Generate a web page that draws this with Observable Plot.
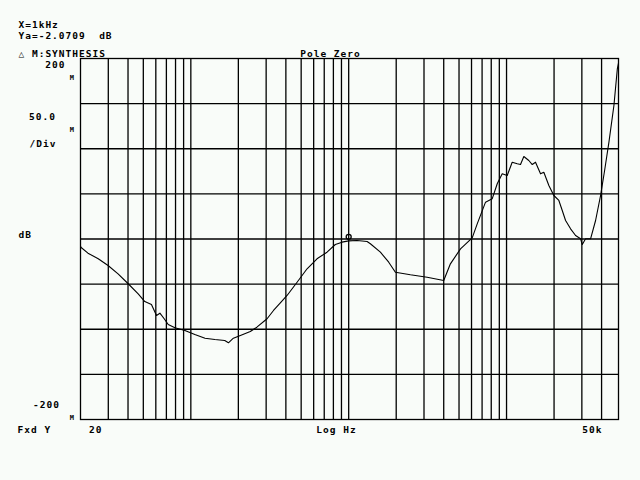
<!DOCTYPE html>
<html>
<head>
<meta charset="utf-8">
<script src="https://cdn.jsdelivr.net/npm/d3@7"></script>
<script src="https://cdn.jsdelivr.net/npm/@observablehq/plot@0.6"></script>
<style>
  html, body { margin: 0; padding: 0; background: #f9fcf9; }
</style>
</head>
<body>
<div id="chart"></div>
<script>
// Frequency (Hz) and magnitude (milli-dB)
const freqHz = [20, 20.1, 22.3, 25.9, 29.9, 34.6, 40.1, 46.4, 51.1, 56.3, 60.6, 63.7, 67.8, 71.9, 79.3, 91.7,
  106, 123, 142, 164, 173, 186, 206, 238, 262, 304, 334, 369, 407, 471, 545, 630, 729, 823, 908, 1000,
  1130, 1308, 1372, 1588, 1793, 1977, 2460, 3140, 4000, 4410, 5110, 6060, 6520, 7360, 8110, 8730, 9390,
  10100, 10860, 11690, 12260, 12870, 13840, 14550, 15260, 16420, 17230, 18540, 19940, 21450, 22540,
  23660, 25450, 27380, 29450, 30190, 31670, 34070, 36650, 39420, 41810, 44530, 47890, 50340, 51200];
const magMdB = [-7.5, -9.1, -15.7, -21.9, -29.4, -38.6, -49.6, -60.7, -69.3, -72.6, -84.8, -82.2, -88.4, -94.7, -98.4, -101.4,
  -105.8, -109.9, -111.4, -112.5, -115, -109.9, -106.9, -102.5, -97.7, -88.4, -79.2, -70.7, -62.6, -47.9, -33.0, -21.9, -14.6, -6.1, -3.5, -2.07,
  -1.7, -2.8, -5.3, -14.6, -25.7, -36.8, -39.7, -42.3, -46.0, -27.5, -10.9, 1.3, 16.8, 40.8, 44.5, 61.2, 72.2,
  70.4, 85.1, 83.3, 82.5, 91.4, 87.0, 82.5, 85.1, 72.2, 74.0, 59.3, 48.2, 42.7, 31.6,
  20.5, 11.3, 3.9, 0.2, -6.1, 0.2, 0.2, 20.5, 48.2, 75.9, 107.3, 147.9, 188.6, 195];

const markerHz = [1000];
const markerMdB = [-2.07];

const xGrid = [30, 40, 50, 60, 70, 80, 90, 100, 200, 300, 400, 500, 600, 700, 800, 900, 1000,
  2000, 3000, 4000, 5000, 6000, 7000, 8000, 9000, 10000, 20000, 30000, 40000];
const yGrid = [-150, -100, -50, 0, 50, 100, 150];

const headerLines = ["X=1kHz", "Ya=-2.0709  dB", "\u25B3 M:SYNTHESIS"];
const title = "Pole Zero";
const yTop = "200", yStep = "50.0", yPerDiv = "/Div", yUnit = "dB", yBottom = "-200", unitM = "M";
const xStart = "20", xMid = "Log Hz", xEnd = "50k", yMode = "Fxd Y";

const trace = freqHz.map((f, i) => ({f, v: magMdB[i]}));
const marker = markerHz.map((f, i) => ({f, v: markerMdB[i]}));

const ML = 80, MT = 58;
const font = "DejaVu Sans Mono";
function label(text, px, py, anchor = "start", size = 9.5, spacing = 1) {
  const m = Plot.text([text], {
    text: d => d, frameAnchor: "top-left", dx: px - ML, dy: py - MT,
    textAnchor: anchor, lineAnchor: "bottom", fill: "black",
    fontSize: size, fontWeight: "bold", fontFamily: font
  });
  const render = m.render;
  m.render = function(...args) {
    const g = render.apply(this, args);
    if (g) g.setAttribute("letter-spacing", spacing);
    return g;
  };
  return m;
}

const chart = Plot.plot({
  width: 640, height: 480,
  marginLeft: ML, marginRight: 22, marginTop: MT, marginBottom: 61,
  x: {type: "log", domain: [20, 51200], axis: null},
  y: {domain: [-200, 200], axis: null},
  style: {background: "#f9fcf9", fontFamily: font, overflow: "visible"},
  marks: [
    Plot.ruleX(xGrid, {stroke: "black", strokeWidth: 1.3}),
    Plot.ruleY(yGrid, {stroke: "black", strokeWidth: 1.3}),
    Plot.frame({stroke: "black", strokeWidth: 1.3}),
    Plot.line(trace, {x: "f", y: "v", stroke: "black", strokeWidth: 1.1}),
    Plot.dot(marker, {x: "f", y: "v", r: 2.5, stroke: "black", strokeWidth: 1.3, dy: -4}),
    label(headerLines[0], 18, 27.5),
    label(headerLines[1], 18, 38.5),
    label(headerLines[2], 18, 56),
    label(title, 330, 56.5, "middle"),
    label(yTop, 65, 67, "end"),
    label(unitM, 73.5, 79.5, "end", 7, 0),
    label(yStep, 55.5, 119, "end"),
    label(unitM, 73.5, 131, "end", 7, 0),
    label(yPerDiv, 29, 146),
    label(yUnit, 18, 237.5),
    label(yBottom, 59.5, 407.5, "end"),
    label(unitM, 73.5, 419.5, "end", 7, 0),
    label(yMode, 17, 432.5),
    label(xStart, 88.5, 432.5),
    label(xMid, 336, 432.5, "middle"),
    label(xEnd, 602, 432.5, "end")
  ]
});
document.getElementById("chart").appendChild(chart);
</script>
</body>
</html>
